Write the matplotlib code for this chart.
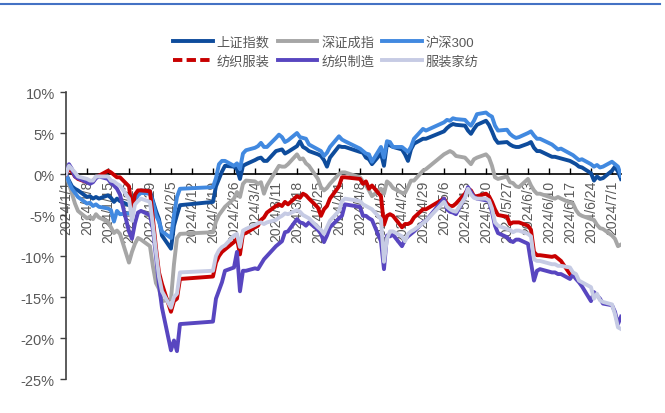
import numpy as np
import pandas as pd
import matplotlib
matplotlib.use("Agg")
import matplotlib.pyplot as plt
from matplotlib.lines import Line2D
from matplotlib.ticker import FuncFormatter

plt.rcParams["font.family"] = ["Liberation Sans", "Noto Sans CJK SC", "DejaVu Sans"]

# ---- data: cumulative return since 2024-01-01 (%), per trading day ----
days = {
    1: [1, 2, 3, 4, 5, 8, 9, 10, 11, 12, 15, 16, 17, 18, 19, 22, 23, 24, 25, 26, 29, 30, 31],
    2: [1, 2, 5, 6, 7, 8, 19, 20, 21, 22, 23, 26, 27, 28, 29],
    3: [1, 4, 5, 6, 7, 8, 11, 12, 13, 14, 15, 18, 19, 20, 21, 22, 25, 26, 27, 28, 29],
    4: [1, 2, 3, 8, 9, 10, 11, 12, 15, 16, 17, 18, 19, 22, 23, 24, 25, 26, 29, 30],
    5: [6, 7, 8, 9, 10, 13, 14, 15, 16, 17, 20, 21, 22, 23, 24, 27, 28, 29, 30, 31],
    6: [3, 4, 5, 6, 7, 11, 12, 13, 14, 17, 18, 19, 20, 21, 24, 25, 26, 27, 28],
    7: [1, 2, 3, 4],
}
dates = [pd.Timestamp(2024, m, d) for m, ds in days.items() for d in ds]

shanghai = (
    [0, -0.8, -1.5, -1.8, -2.0, -2.8, -2.7, -3.0, -2.8, -3.0, -2.6, -2.9, -3.4, -3.0, -3.3, -3.8, -3.6, -2.6, -2.2, -2.0, -2.1, -3.3, -4.5]
    + [-5.5, -7.5, -9.1, -6.3, -5.0, -3.8, -3.4, -1.5, -0.6, 0.3, 1.0, 0.9, 0.6, -0.6, 1.0]
    + [1.2, 1.7, 1.9, 2.0, 1.6, 1.6, 2.8, 2.9, 3.0, 2.5, 2.7, 3.4, 4.0, 3.3, 3.1, 2.8, 2.4, 2.2, 1.7, 0.9, 2.0]
    + [3.4, 3.3, 3.3, 2.7, 2.6, 2.0, 1.8, 1.2, 2.5, 1.0, 3.7, 3.5, 3.3, 3.0, 2.4, 1.6, 3.0, 3.7, 4.3, 4.3]
    + [5.2, 5.6, 5.9, 6.1, 6.0, 5.9, 5.3, 4.9, 5.5, 6.0, 6.5, 6.0, 5.2, 4.3, 3.8, 3.9, 3.6, 3.4, 3.3, 3.3]
    + [3.7, 3.9, 3.2, 2.8, 2.8, 2.1, 2.1, 2.0, 1.9, 1.6, 1.4, 1.2, 0.9, 0.8, 0.1, -0.8, -0.3, -0.6, -0.5]
    + [0.4, 0.9, 0.3, -0.6]
)
shenzhen = (
    [0, -1.2, -2.4, -3.6, -4.5, -5.4, -5.2, -5.5, -4.9, -5.3, -5.8, -6.5, -7.2, -6.9, -7.3, -10.8, -9.5, -8.5, -7.8, -8.0, -8.8, -11.3, -13.3]
    + [-14.0, -15.5, -15.3, -11.0, -7.8, -7.3, -7.1, -5.8, -5.0, -4.5, -4.0, -3.0, -2.2, -2.8, -1.2]
    + [-0.8, -0.9, -1.2, -1.0, -2.4, -1.4, 0.4, 1.0, 0.9, 0.9, 1.2, 2.4, 1.8, 1.9, 1.3, 1.0, -0.6, -1.6, -2.0, -1.7, -1.2]
    + [0.0, 0.2, 0.2, -0.4, -0.9, -1.4, -2.0, -2.7, -1.8, -2.4, -0.9, -1.2, -1.7, -2.3, -2.3, -1.6, -0.8, -0.8, 0.4, 0.6]
    + [2.4, 2.6, 2.8, 2.6, 2.2, 2.0, 1.6, 1.2, 1.8, 2.0, 2.4, 2.0, 1.0, -0.4, -0.6, -0.3, -1.0, -1.1, -1.5, -1.6]
    + [-0.6, -1.4, -2.0, -2.4, -2.4, -2.9, -3.0, -2.8, -3.0, -3.5, -3.6, -4.4, -4.9, -5.1, -5.5, -5.6, -6.2, -6.6, -6.7]
    + [-7.5, -7.9, -8.8, -8.6]
)
hs300 = (
    [0, -1.0, -1.8, -2.3, -2.8, -3.6, -3.5, -3.9, -3.7, -4.0, -4.2, -4.4, -5.8, -4.5, -4.9, -4.8, -4.5, -3.2, -2.6, -2.3, -2.4, -3.5, -5.0]
    + [-5.8, -7.0, -7.8, -5.0, -2.8, -1.8, -1.6, -0.5, 1.2, 1.6, 1.6, 1.0, 1.3, 0.6, 2.5]
    + [2.9, 3.2, 3.4, 3.8, 3.3, 3.3, 4.4, 4.8, 4.5, 3.9, 4.1, 5.0, 4.5, 4.4, 4.3, 3.6, 3.0, 2.8, 2.2, 2.6, 3.3]
    + [4.6, 4.2, 4.0, 3.1, 2.8, 2.5, 2.4, 1.5, 3.3, 2.0, 4.0, 3.9, 3.3, 3.3, 3.0, 2.7, 3.3, 4.3, 5.5, 5.3]
    + [6.3, 6.6, 6.5, 6.8, 6.7, 6.6, 6.2, 5.9, 6.5, 7.3, 7.5, 7.2, 7.0, 5.9, 5.3, 5.4, 4.9, 4.6, 4.4, 4.5]
    + [5.0, 5.2, 4.7, 4.3, 4.3, 3.6, 3.3, 3.0, 3.1, 2.5, 2.3, 2.0, 1.7, 1.8, 1.2, 0.9, 1.1, 0.8, 0.9]
    + [1.5, 1.2, 0.9, -0.2]
)
textile_apparel = (
    [0, 0.6, 0.3, -0.3, -0.6, -1.0, -0.9, -0.9, -0.4, -0.2, 0.4, 0.2, -0.1, -0.4, -0.4, -1.5, -4.5, -2.5, -2.0, -2.0, -2.1, -5.5, -9.0]
    + [-12.0, -13.4, -16.8, -15.5, -15.2, -12.8, -12.5, -10.8, -10.0, -9.5, -9.2, -8.3, -7.9, -9.8, -7.3]
    + [-7.2, -6.5, -6.3, -5.6, -5.3, -4.7, -3.9, -3.7, -3.9, -3.4, -3.7, -2.7, -2.9, -2.4, -2.6, -3.0, -4.1, -5.1, -4.3, -3.9, -3.0]
    + [-1.5, -0.4, -0.4, -0.6, -1.2, -0.9, -1.8, -1.4, -2.7, -6.2, -5.1, -4.9, -5.1, -6.5, -6.1, -6.1, -5.9, -5.3, -4.3, -4.3]
    + [-3.0, -3.6, -3.9, -3.9, -3.6, -2.4, -1.8, -2.0, -2.7, -2.7, -2.4, -2.7, -3.4, -4.3, -5.0, -5.2, -6.1, -5.9, -5.9, -5.9]
    + [-6.3, -6.8, -9.5, -9.9, -9.9, -10.1, -10.0, -10.3, -10.6, -12.2] + [np.nan] * 9
    + [np.nan] * 4
)
textile_mfg = (
    [0, 1.2, 0.6, -0.3, -0.5, -1.0, -1.2, -1.0, -0.5, -0.3, -0.6, -1.1, -1.4, -1.8, -2.5, -7.0, -7.9, -6.0, -4.7, -4.5, -5.0, -6.8, -10.0]
    + [-13.5, -16.3, -21.5, -20.3, -21.6, -18.3, -18.0, -15.2, -14.2, -13.2, -11.8, -11.4, -9.5, -14.3, -11.8]
    + [-11.8, -11.5, -11.6, -11.0, -10.4, -10.0, -8.8, -8.5, -8.2, -7.1, -7.0, -5.5, -5.9, -6.0, -6.3, -5.9, -6.8, -7.3, -8.3, -7.5, -6.5]
    + [-5.4, -5.1, -3.7, -4.0, -5.1, -5.1, -5.4, -5.6, -8.2, -11.6, -7.5, -7.6, -7.4, -8.8, -8.0, -7.6, -7.3, -7.0, -5.9, -5.7]
    + [-3.0, -4.3, -4.6, -4.7, -4.9, -2.8, -1.6, -2.2, -2.8, -3.0, -3.2, -3.3, -4.6, -6.3, -7.2, -7.7, -8.1, -8.3, -8.0, -8.0]
    + [-8.5, -10.8, -13.0, -11.8, -11.6, -12.0, -12.0, -12.2, -12.2, -12.8, -12.3, -12.8, -13.2, -13.7, -15.5, -14.4, -14.8, -15.2, -15.8]
    + [-16.0, -16.8, -18.3, -17.4]
)
home_textile = (
    [0, 1.0, 0.6, 0.2, -0.3, -0.6, -0.8, -0.8, -0.3, -0.3, -0.3, -0.8, -0.9, -1.2, -1.4, -3.0, -5.7, -3.7, -3.3, -3.0, -3.4, -6.3, -9.5]
    + [-12.5, -14.3, -16.3, -15.0, -14.6, -12.0, -11.8, -10.0, -9.3, -8.9, -8.7, -7.5, -7.3, -8.9, -6.9]
    + [-6.7, -6.2, -6.0, -5.9, -6.1, -5.9, -5.6, -5.3, -5.1, -4.8, -4.9, -4.4, -4.6, -5.0, -5.2, -5.4, -6.5, -6.8, -7.3, -6.5, -5.7]
    + [-4.5, -3.3, -3.0, -3.3, -3.7, -3.9, -4.1, -4.3, -5.5, -10.7, -7.9, -7.0, -7.0, -7.6, -8.2, -7.3, -7.0, -6.8, -6.0, -5.7]
    + [-3.4, -4.0, -4.3, -4.5, -4.6, -2.9, -1.8, -2.5, -2.9, -3.0, -3.0, -3.2, -4.2, -5.9, -6.3, -6.7, -6.8, -7.1, -6.9, -6.9]
    + [-7.3, -7.6, -10.4, -10.6, -10.6, -11.0, -11.0, -11.2, -11.2, -11.4, -12.0, -12.2, -13.0, -13.2, -13.8, -15.2, -14.6, -15.4, -15.6]
    + [-15.9, -17.1, -18.7, -18.9]
)

labels = ["上证指数", "深证成指", "沪深300", "纺织服装", "纺织制造", "服装家纺"]
series = [shanghai, shenzhen, hs300, textile_apparel, textile_mfg, home_textile]
colors = ["#0E4C9C", "#A6A6A6", "#4189E0", "#C80000", "#5846C0", "#C6CBE4"]
TXT = "#595959"

fig = plt.figure(figsize=(6.65, 4.14), dpi=100)
ax = fig.add_axes([0.0992, 0.0821, 0.8346, 0.6932])

for i, (vals, c) in enumerate(zip(series, colors)):
    ax.plot(dates, vals, color=c, lw=2.8, solid_joinstyle="round", zorder=3 + i)

ax.set_ylim(-25, 10)
ax.set_yticks(np.arange(-25, 11, 5))
ax.yaxis.set_major_formatter(FuncFormatter(lambda v, p: f"{v:.0f}%"))
ax.set_xlim(pd.Timestamp(2024, 1, 1), pd.Timestamp(2024, 7, 4))
ticks = pd.date_range("2024-01-01", "2024-07-01", freq="7D")
ax.set_xticks(ticks)
ax.set_xticklabels([f"{d.year}/{d.month}/{d.day}" for d in ticks])

for s in ["top", "right"]:
    ax.spines[s].set_visible(False)
ax.spines["bottom"].set_position(("data", 0))
ax.spines["bottom"].set_color("#000000")
ax.spines["left"].set_color("#404040")
ax.spines["bottom"].set_linewidth(1.2)
ax.spines["left"].set_linewidth(1.2)
ax.tick_params(axis="x", direction="in", length=4, width=1, pad=4,
               labelsize=10, labelcolor=TXT, color="#000000", labelrotation=90)
ax.tick_params(axis="y", direction="out", length=4, width=1, pad=4,
               labelsize=10.5, labelcolor=TXT, color="#404040")
for lab in ax.get_xticklabels():
    lab.set_va("top")
    lab.set_ha("center")

# legend filled row by row (red entry dashed as in the original)
handles = [Line2D([], [], color=c, lw=2.8) for c in colors]
handles[3] = Line2D([], [], color=colors[3], lw=2.8, linestyle=(0, (2.4, 1.1)))
order = [0, 3, 1, 4, 2, 5]
fig.legend([handles[k] for k in order], [labels[k] for k in order],
           ncol=3, loc="center", bbox_to_anchor=(0.49, 0.872),
           frameon=False, fontsize=9.5, labelcolor=TXT, handlelength=3.0,
           handletextpad=0.3, columnspacing=0.6, labelspacing=0.5)

# top border line
fig.add_artist(Line2D([0, 0.993], [0.988, 0.988], color="#4472C4", lw=1.5,
                      transform=fig.transFigure))

fig.savefig("out.png", dpi=100)
